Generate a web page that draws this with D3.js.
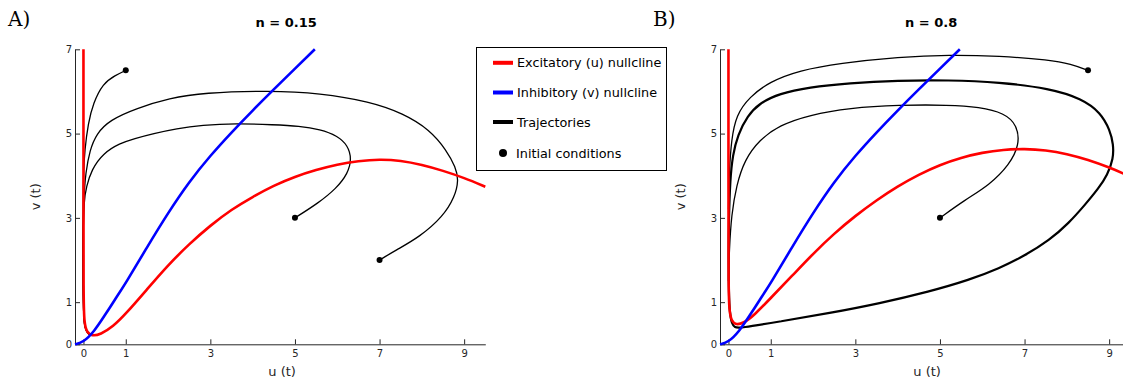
<!DOCTYPE html>
<html>
<head>
<meta charset="utf-8">
<script src="https://cdn.jsdelivr.net/npm/d3@7"></script>
<style>
  body { margin: 0; background: #fff; }
  text { font-family: "DejaVu Sans", sans-serif; }
</style>
</head>
<body>
<div id="chart"></div>
<script>
// tick values & labels
const uTicks = [0, 1, 3, 5, 7, 9];
const vTicks = [0, 1, 3, 5, 7];
const panelTitles = ["n = 0.15", "n = 0.8"];
const panelLetters = ["A)", "B)"];
const legendLabels = ["Excitatory (u) nullcline", "Inhibitory (v) nullcline", "Trajectories", "Initial conditions"];

// nullclines as [u, v]
const excitA = [[0, 7], [0, 4], [0, 1.0], [0.02, 0.5], [0.08, 0.28], [0.2, 0.2], [0.4, 0.23], [0.7, 0.42],
  [1, 0.72], [1.5, 1.3], [2, 1.88], [2.5, 2.38], [3, 2.82], [3.5, 3.2], [4, 3.5], [4.5, 3.77], [5, 3.98],
  [5.5, 4.14], [6, 4.27], [6.5, 4.35], [7, 4.39], [7.5, 4.36], [8, 4.26], [8.5, 4.12], [9, 3.95], [9.5, 3.74]];
const excitB = [[0, 7], [0, 4], [0, 1.3], [0.02, 0.8], [0.07, 0.55], [0.18, 0.46], [0.35, 0.5], [0.6, 0.68],
  [1, 1.1], [1.5, 1.62], [2, 2.15], [2.5, 2.63], [3, 3.05], [3.5, 3.42], [4, 3.75], [4.5, 4.03], [5, 4.26],
  [5.5, 4.43], [6, 4.55], [6.5, 4.62], [7, 4.64], [7.5, 4.61], [8, 4.52], [8.5, 4.38], [9, 4.2], [9.5, 3.98]];
const inhib = [[-0.2, 0], [0, 0.05], [0.25, 0.3], [0.5, 0.68], [0.75, 1.07], [1, 1.45], [1.5, 2.3], [2, 3.12],
  [2.5, 3.86], [3, 4.48], [3.5, 5.03], [4, 5.55], [4.5, 6.05], [5, 6.54], [5.47, 7.0]];

// trajectories, panel A
const trajA1 = [[1, 6.5], [0.75, 6.38], [0.46, 6.19], [0.23, 5.72], [0.11, 5.24], [0.03, 4.61], [0.0, 4.06],
  [-0.01, 3.3], [-0.01, 2], [0, 1], [0.02, 0.5], [0.07, 0.3], [0.15, 0.22]];
const trajA2 = [[5, 3], [5.55, 3.35], [5.98, 3.7], [6.25, 4.05], [6.34, 4.4], [6.25, 4.72], [6.0, 4.95], [5.6, 5.1],
  [5.1, 5.18], [4.5, 5.21], [3.6, 5.24], [2.8, 5.2], [2.2, 5.12], [1.65, 5.0], [1.2, 4.88], [0.86, 4.77],
  [0.46, 4.53], [0.19, 4.14], [0.07, 3.74], [0.01, 3.42], [-0.01, 2.5], [-0.01, 1.5], [0, 0.8], [0.02, 0.45],
  [0.07, 0.3], [0.15, 0.22]];
const trajA3 = [[7, 2], [7.4, 2.24], [7.95, 2.55], [8.5, 3.03], [8.78, 3.5], [8.87, 3.9], [8.8, 4.2], [8.58, 4.61],
  [8.19, 5.09], [7.56, 5.48], [6.77, 5.76], [5.59, 5.96], [4.4, 6.02], [2.83, 5.97], [2.04, 5.84], [1.25, 5.6],
  [0.62, 5.32], [0.31, 5.0], [0.15, 4.61], [0.05, 4.06], [0.01, 3.5], [-0.01, 2.5], [-0.01, 1.5], [0, 0.8],
  [0.02, 0.45], [0.07, 0.3], [0.15, 0.22]];

// trajectories, panel B (two transients + the limit cycle they settle on)
const trajB1 = [[8.5, 6.5], [8.1, 6.65], [7.59, 6.75], [6.4, 6.84], [5.22, 6.87], [4.04, 6.82], [2.62, 6.67],
  [1.68, 6.5], [0.97, 6.23], [0.5, 5.87], [0.18, 5.44], [0.07, 4.85], [0.02, 4.14], [0.0, 3.2]];
const trajB2 = [[5, 3], [5.58, 3.42], [6.17, 3.78], [6.64, 4.26], [6.88, 4.73], [6.83, 5.2], [6.52, 5.49],
  [5.93, 5.63], [5.22, 5.68], [4.04, 5.68], [2.86, 5.61], [1.91, 5.44], [1.21, 5.2], [0.73, 4.85], [0.38, 4.37],
  [0.19, 3.78], [0.07, 3.07], [0.02, 2.24], [0.0, 1.5]];
const cycleB = [[0.26, 0.38], [1.21, 0.54], [2.39, 0.74], [3.57, 0.97], [4.75, 1.25], [5.7, 1.53], [6.4, 1.8],
  [7.0, 2.1], [7.59, 2.47], [8.05, 2.88], [8.42, 3.3], [8.75, 3.7], [8.96, 4.02], [9.1, 4.4], [9.1, 4.75],
  [9.02, 5.08], [8.8, 5.5], [8.35, 5.83], [7.6, 6.07], [6.4, 6.22], [5.2, 6.27], [4.0, 6.26], [2.85, 6.2],
  [1.9, 6.1], [1.2, 5.95], [0.73, 5.72], [0.45, 5.42], [0.22, 4.97], [0.1, 4.49], [0.04, 3.9], [0.01, 3.0],
  [0.0, 2.0], [0.01, 1.2], [0.03, 0.75], [0.08, 0.48], [0.15, 0.4]];

const initA = [[1, 6.5], [5, 3], [7, 2]];
const initB = [[8.5, 6.5], [5, 3]];

const width = 1123, height = 379;
const axisColor = "#262626";

const svg = d3.select("#chart").append("svg")
  .attr("width", width)
  .attr("height", height);

const y = d3.scaleLinear().domain([0, 7]).range([344.3, 49.3]);

function drawPanel(left, title, letter, excit, trajs, cycle, inits) {
  const x = d3.scaleLinear().domain([-0.2, 9.5]).range([left, left + 410.3]);
  const g = svg.append("g");

  const line = d3.line()
    .x(d => x(d[0]))
    .y(d => y(d[1]))
    .curve(d3.curveBasis);

  // axes, ticks pointing inward (matlab style)
  g.append("g")
    .attr("transform", `translate(0,${y(0)})`)
    .call(d3.axisBottom(x).tickValues(uTicks).tickFormat(d3.format("d"))
      .tickSizeInner(-5).tickSizeOuter(0).tickPadding(4))
    .call(a => a.selectAll("text").attr("dy", "0.85em"));
  g.append("g")
    .attr("transform", `translate(${left},0)`)
    .call(d3.axisLeft(y).tickValues(vTicks).tickFormat(d3.format("d"))
      .tickSizeInner(-5).tickSizeOuter(0).tickPadding(3));

  g.selectAll(".domain, .tick line").attr("stroke", axisColor);
  g.selectAll(".tick text")
    .attr("fill", axisColor)
    .style("font-size", "10px")
    .style("font-family", "DejaVu Sans, sans-serif");

  if (cycle) {
    const closed = d3.line()
      .x(d => x(d[0]))
      .y(d => y(d[1]))
      .curve(d3.curveBasisClosed);
    g.append("path")
      .attr("d", closed(cycle))
      .attr("fill", "none")
      .attr("stroke", "#000")
      .attr("stroke-width", 2.2);
  }

  g.selectAll(".traj")
    .data(trajs)
    .join("path")
    .attr("class", "traj")
    .attr("d", line)
    .attr("fill", "none")
    .attr("stroke", "#000")
    .attr("stroke-width", 1.3);

  g.append("path")
    .attr("d", line(excit))
    .attr("fill", "none")
    .attr("stroke", "#ff0000")
    .attr("stroke-width", 2.6);

  g.append("path")
    .attr("d", line(inhib))
    .attr("fill", "none")
    .attr("stroke", "#0000ff")
    .attr("stroke-width", 2.6);

  g.selectAll(".init")
    .data(inits)
    .join("circle")
    .attr("class", "init")
    .attr("cx", d => x(d[0]))
    .attr("cy", d => y(d[1]))
    .attr("r", 3)
    .attr("fill", "#000");

  const mid = (x.range()[0] + x.range()[1]) / 2;
  g.append("text")
    .attr("x", mid + 6).attr("y", 27)
    .attr("text-anchor", "middle")
    .style("font-size", "13px")
    .style("font-weight", "bold")
    .text(title);

  g.append("text")
    .attr("x", mid + 2).attr("y", 376)
    .attr("text-anchor", "middle")
    .attr("fill", axisColor)
    .style("font-size", "13px")
    .text("u (t)");

  g.append("text")
    .attr("transform", `translate(${left - 35},${(y(0) + y(7)) / 2}) rotate(-90)`)
    .attr("text-anchor", "middle")
    .attr("fill", axisColor)
    .style("font-size", "13px")
    .text("v (t)");

  g.append("text")
    .attr("x", left - 67).attr("y", 26)
    .style("font-family", "DejaVu Serif, serif")
    .style("font-size", "20px")
    .text(letter);
}

drawPanel(75, panelTitles[0], panelLetters[0], excitA, [trajA1, trajA2, trajA3], null, initA);
drawPanel(720, panelTitles[1], panelLetters[1], excitB, [trajB1, trajB2], cycleB, initB);

// legend
const legend = svg.append("g").attr("transform", "translate(476.5,47.5)");
legend.append("rect")
  .attr("width", 190).attr("height", 123)
  .attr("fill", "#fff")
  .attr("stroke", "#000")
  .attr("stroke-width", 1);

const legendColors = ["#ff0000", "#0000ff", "#000"];
const legendY = [15.3, 45, 74.5, 105.5];

legend.selectAll(".lg-line")
  .data(legendColors)
  .join("line")
  .attr("class", "lg-line")
  .attr("x1", 16.5).attr("x2", 36.5)
  .attr("y1", (d, i) => legendY[i]).attr("y2", (d, i) => legendY[i])
  .attr("stroke", d => d)
  .attr("stroke-width", 4);

legend.append("circle")
  .attr("cx", 26.5).attr("cy", legendY[3])
  .attr("r", 4)
  .attr("fill", "#000");

legend.selectAll(".lg-text")
  .data(legendLabels)
  .join("text")
  .attr("class", "lg-text")
  .attr("x", (d, i) => i === 3 ? 39.5 : 40.5)
  .attr("y", (d, i) => legendY[i] + 4.5)
  .style("font-size", "12.8px")
  .text(d => d);
</script>
</body>
</html>
